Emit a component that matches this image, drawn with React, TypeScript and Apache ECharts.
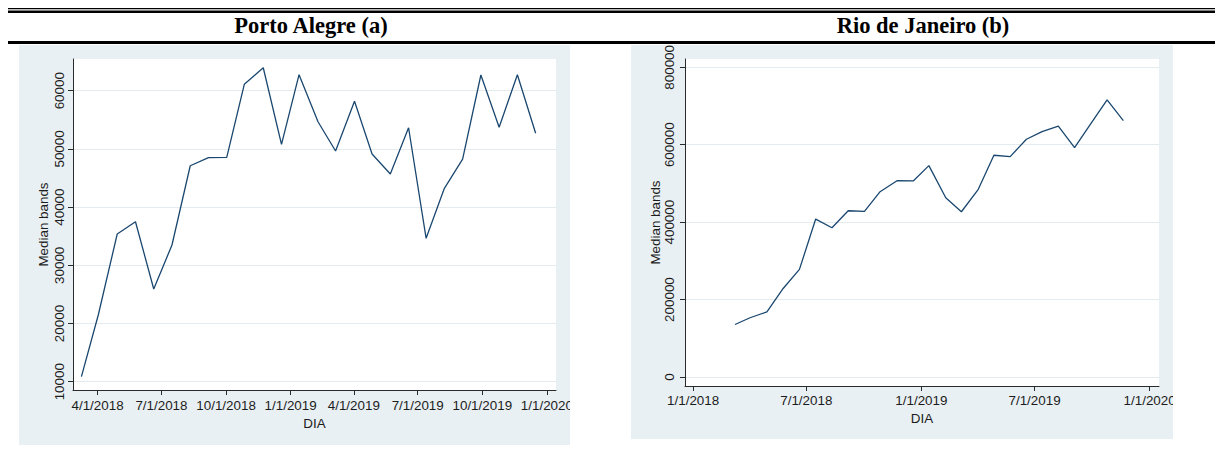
import React, { useEffect, useRef } from 'react';
import * as echarts from 'echarts';

// Observation dates (roughly every 26 days) shared by both cities
const obsDates = [
  '2018-03-09', '2018-04-02', '2018-04-29', '2018-05-25', '2018-06-20', '2018-07-16',
  '2018-08-11', '2018-09-06', '2018-10-02', '2018-10-27', '2018-11-23', '2018-12-19',
  '2019-01-13', '2019-02-09', '2019-03-06', '2019-04-02', '2019-04-27', '2019-05-23',
  '2019-06-18', '2019-07-13', '2019-08-08', '2019-09-03', '2019-09-29', '2019-10-25',
  '2019-11-20', '2019-12-16',
];

// Median bands, Porto Alegre
const portoAlegreBands = [
  10860, 21460, 35380, 37490, 25930, 33490, 47110, 48490, 48560, 61100, 63950, 50790,
  62760, 54670, 49640, 58180, 49120, 45690, 53640, 34640, 43230, 48260, 62700, 53710,
  62750, 52680,
];

// Median bands, Rio de Janeiro (no value for the last date)
const rioDeJaneiroBands = [
  135600, 153000, 168200, 228700, 277900, 408000, 385500, 429500, 428000, 478700, 507100,
  506500, 546000, 463100, 426900, 484900, 572800, 569200, 614200, 634000, 647900, 592500,
  654300, 716000, 662400,
];

const portoXTicks = [
  '2018-04-01', '2018-07-01', '2018-10-01', '2019-01-01',
  '2019-04-01', '2019-07-01', '2019-10-01', '2020-01-01',
];
const rioXTicks = ['2018-01-01', '2018-07-01', '2019-01-01', '2019-07-01', '2020-01-01'];
const portoYTicks = [10000, 20000, 30000, 40000, 50000, 60000];
const rioYTicks = [0, 200000, 400000, 600000, 800000];

const portoXRange = ['2018-02-25', '2020-01-14'];
const rioXRange = ['2017-12-19', '2020-01-16'];
const portoYRange = [8574, 65450];
const rioYRange = [-23300, 821500];

const panelTitles = ['Porto Alegre (a)', 'Rio de Janeiro (b)'];
const xAxisName = 'DIA';
const yAxisName = 'Median bands';

const PANEL_BG = '#e9f0f3';
const GRID_LINE = '#e3ebee';
const AXIS = '#2a2a2a';
const TEXT = '#1c1c1c';
const LINE = '#1a476f';
const SANS = "'Liberation Sans', Arial, sans-serif";
const SERIF = "'Liberation Serif', 'Times New Roman', serif";

function ts(s: string): number {
  const [y, m, d] = s.split('-').map(Number);
  return new Date(y, m - 1, d).getTime();
}

function fmtDate(v: number): string {
  const d = new Date(v);
  return `${d.getMonth() + 1}/${d.getDate()}/${d.getFullYear()}`;
}

// Date axis drawn as a numeric (timestamp) axis so that ticks can sit on chosen dates
function dateAxis(gridIndex: number, ticks: string[], range: string[], margin: number, nameGap: number) {
  const tickVals = ticks.map(ts);
  return {
    type: 'value',
    gridIndex,
    min: ts(range[0]),
    max: ts(range[1]),
    name: xAxisName,
    nameLocation: 'middle',
    nameGap,
    nameTextStyle: { fontFamily: SANS, fontSize: 13.4, color: TEXT },
    axisLine: { show: true, onZero: false, lineStyle: { color: AXIS, width: 1 } },
    axisTick: { show: true, length: 5, customValues: tickVals, lineStyle: { color: AXIS, width: 1 } },
    axisLabel: {
      customValues: tickVals,
      margin,
      fontFamily: SANS,
      fontSize: 13.4,
      color: TEXT,
      formatter: (v: number) => fmtDate(v),
    },
    splitLine: { show: false },
  };
}

function valueAxis(gridIndex: number, ticks: number[], range: number[], margin: number) {
  return {
    type: 'value',
    gridIndex,
    min: range[0],
    max: range[1],
    name: yAxisName,
    nameLocation: 'middle',
    nameRotate: 90,
    nameGap: 23,
    nameTextStyle: { fontFamily: SANS, fontSize: 13.4, color: TEXT },
    axisLine: { show: true, onZero: false, lineStyle: { color: AXIS, width: 1 } },
    axisTick: { show: true, length: 5, customValues: ticks, lineStyle: { color: AXIS, width: 1 } },
    axisLabel: {
      customValues: ticks,
      rotate: 90,
      margin,
      fontFamily: SANS,
      fontSize: 13.4,
      color: TEXT,
      formatter: (v: number) => String(v),
    },
    splitLine: { show: true, lineStyle: { color: GRID_LINE, width: 1.2 } },
  };
}

export default function App() {
  const ref = useRef<HTMLDivElement>(null);

  useEffect(() => {
    if (!ref.current) return;
    const chart = echarts.init(ref.current, undefined, { renderer: 'svg' });

    const portoData = portoAlegreBands.map((v, i) => [ts(obsDates[i]), v]);
    const rioData = rioDeJaneiroBands.map((v, i) => [ts(obsDates[i]), v]);

    chart.setOption({
      animation: false,
      backgroundColor: '#ffffff',
      grid: [
        { left: 73, top: 59, width: 483, height: 331, show: true, backgroundColor: '#ffffff', borderWidth: 0 },
        { left: 685, top: 59, width: 474, height: 327, show: true, backgroundColor: '#ffffff', borderWidth: 0 },
      ],
      xAxis: [
        dateAxis(0, portoXTicks, portoXRange, 9, 23),
        dateAxis(1, rioXTicks, rioXRange, 8, 21),
      ],
      yAxis: [
        valueAxis(0, portoYTicks, portoYRange, 7.5),
        valueAxis(1, rioYTicks, rioYRange, 9),
      ],
      series: [
        {
          type: 'line',
          xAxisIndex: 0,
          yAxisIndex: 0,
          data: portoData,
          showSymbol: false,
          lineStyle: { color: LINE, width: 1.3 },
          itemStyle: { color: LINE },
        },
        {
          type: 'line',
          xAxisIndex: 1,
          yAxisIndex: 1,
          data: rioData,
          showSymbol: false,
          lineStyle: { color: LINE, width: 1.3 },
          itemStyle: { color: LINE },
        },
      ],
      graphic: [
        // panel backgrounds
        { type: 'rect', z: -10, shape: { x: 19, y: 45, width: 551, height: 400 }, style: { fill: PANEL_BG } },
        { type: 'rect', z: -10, shape: { x: 631, y: 45, width: 542, height: 394 }, style: { fill: PANEL_BG } },
        // masks that trim labels at the panel edges
        { type: 'rect', z: 100, shape: { x: 570, y: 45, width: 61, height: 400 }, style: { fill: '#ffffff' } },
        { type: 'rect', z: 100, shape: { x: 1173, y: 45, width: 42, height: 400 }, style: { fill: '#ffffff' } },
        // table rules
        { type: 'rect', z: 10, shape: { x: 8, y: 8, width: 1207, height: 1.2 }, style: { fill: '#000000' } },
        { type: 'rect', z: 10, shape: { x: 8, y: 10.5, width: 1207, height: 2.5 }, style: { fill: '#000000' } },
        { type: 'rect', z: 10, shape: { x: 8, y: 41, width: 1207, height: 3 }, style: { fill: '#000000' } },
        // column headings
        {
          type: 'text',
          z: 10,
          style: {
            text: panelTitles[0],
            x: 311,
            y: 25.5,
            align: 'center',
            verticalAlign: 'middle',
            fontFamily: SERIF,
            fontWeight: 'bold',
            fontSize: 22.5,
            fill: '#000000',
          },
        },
        {
          type: 'text',
          z: 10,
          style: {
            text: panelTitles[1],
            x: 923,
            y: 25.5,
            align: 'center',
            verticalAlign: 'middle',
            fontFamily: SERIF,
            fontWeight: 'bold',
            fontSize: 22.5,
            fill: '#000000',
          },
        },
      ],
    });

    return () => chart.dispose();
  }, []);

  return (
    <div
      ref={ref}
      style={{ position: 'absolute', left: 0, top: 0, width: 1215, height: 457, background: '#ffffff' }}
    />
  );
}
